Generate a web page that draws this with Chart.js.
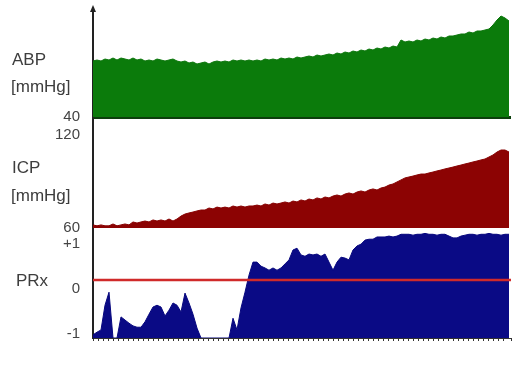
<!DOCTYPE html>
<html>
<head>
<meta charset="utf-8">
<script src="https://cdn.jsdelivr.net/npm/chart.js@4.4.1/dist/chart.umd.min.js"></script>
<style>
  html, body { margin: 0; padding: 0; background: #fff; }
  #wrap { width: 515px; height: 384px; }
</style>
</head>
<body>
<div id="wrap"><canvas id="myChart" width="515" height="384"></canvas></div>
<script>
// values, one sample every half minute
const abp = [96, 97, 96, 98, 97, 99, 97, 99, 98, 97,
  99, 97, 98, 96, 97, 96, 98, 97, 96, 97,
  98, 96, 95, 96, 94, 95, 93, 94, 95, 93,
  95, 96, 95, 96, 95, 97, 96, 97, 96, 97,
  96, 97, 96, 98, 97, 98, 97, 99, 98, 99,
  98, 100, 99, 100, 101, 100, 102, 101, 102, 103,
  102, 104, 103, 105, 104, 106, 105, 107, 106, 108,
  107, 109, 108, 110, 109, 111, 110, 117, 115, 116,
  115, 117, 116, 118, 117, 119, 118, 120, 119, 121,
  121, 122, 123, 123, 125, 124, 126, 126, 127, 128,
  132, 137, 141, 139, 136];

const icp = [62.0, 61.4, 62.0, 61.4, 61.4, 62.6, 61.4, 62.0, 62.6, 62.0,
  63.9, 63.2, 63.9, 64.5, 63.9, 65.2, 64.5, 65.2, 64.5, 65.8,
  64.5, 65.8, 67.7, 69.0, 69.7, 70.3, 71.0, 71.6, 71.6, 72.9,
  72.3, 73.5, 72.9, 73.5, 72.9, 74.2, 73.5, 74.2, 73.5, 74.2,
  74.2, 74.8, 74.2, 75.5, 74.8, 76.1, 75.5, 76.1, 76.8, 76.1,
  77.4, 76.8, 78.1, 77.4, 78.7, 78.1, 79.4, 78.7, 80.0, 79.4,
  80.6, 81.3, 80.6, 81.9, 82.6, 81.9, 83.2, 83.9, 83.2, 84.5,
  85.2, 84.5, 85.8, 86.4, 87.7, 88.4, 89.7, 91.0, 92.3, 92.9,
  93.5, 94.2, 94.8, 94.8, 95.5, 96.1, 96.8, 97.4, 98.1, 98.7,
  99.3, 100.0, 100.6, 101.3, 101.9, 102.6, 103.2, 103.9, 104.5, 105.8,
  107.1, 109.0, 110.3, 110.3, 109.0];

const prx = [-1.02, -0.96, -0.91, -0.36, -0.07, -1.09, -1.09, -0.62, -0.69, -0.76,
  -0.82, -0.85, -0.85, -0.73, -0.56, -0.40, -0.36, -0.40, -0.60, -0.47,
  -0.31, -0.36, -0.51, -0.09, -0.31, -0.56, -0.87, -1.09, -1.09, -1.09,
  -1.09, -1.09, -1.09, -1.09, -1.09, -0.65, -0.91, -0.42, -0.07, 0.31,
  0.60, 0.60, 0.51, 0.47, 0.42, 0.47, 0.42, 0.47, 0.56, 0.65,
  0.87, 0.91, 0.76, 0.73, 0.78, 0.76, 0.78, 0.73, 0.78, 0.60,
  0.42, 0.60, 0.71, 0.69, 0.65, 0.87, 0.96, 1.00, 1.09, 1.11,
  1.11, 1.16, 1.16, 1.16, 1.18, 1.16, 1.18, 1.22, 1.22, 1.22,
  1.20, 1.22, 1.22, 1.24, 1.22, 1.22, 1.20, 1.22, 1.22, 1.18,
  1.14, 1.14, 1.18, 1.20, 1.22, 1.22, 1.20, 1.22, 1.22, 1.24,
  1.22, 1.22, 1.20, 1.22, 1.22];

// red PRx reference line, start and end of record
const prxLimitTime = [0, 52.25];
const prxLimit = [0.2, 0.2];

const abpTicks = [40];
const icpTicks = [60, 120];
const prxTicks = [-1, 0, 1];

const minutes = abp.map((v, i) => i * 0.5);
const pts = (arr) => arr.map((v, i) => ({x: minutes[i], y: v}));

const textColor = '#3d3d3d';
const labelFont = '17px "Liberation Sans", Arial, sans-serif';

// side labels, scale bar and TIME
const panelText = {
  id: 'panelText',
  afterDraw(chart) {
    const {ctx, scales} = chart;
    const a = scales.yAbp, c = scales.yIcp, p = scales.yPrx, x = scales.x;
    ctx.save();
    ctx.fillStyle = textColor;
    ctx.font = labelFont;
    ctx.textBaseline = 'middle';
    ctx.textAlign = 'left';
    ctx.fillText('ABP', 12, a.top + 50);
    ctx.fillText('[mmHg]', 11, a.top + 77);
    ctx.fillText('ICP', 12, c.top + 51);
    ctx.fillText('[mmHg]', 11, c.top + 79);
    ctx.fillText('PRx', 16, p.top + 53);

    // 5 min scale bar
    const x0 = x.getPixelForValue(0), x1 = x.getPixelForValue(5);
    ctx.strokeStyle = '#555';
    ctx.lineWidth = 2;
    ctx.beginPath();
    ctx.moveTo(x0, x.bottom + 18);
    ctx.lineTo(x1, x.bottom + 18);
    ctx.stroke();
    ctx.font = '15px "Liberation Sans", Arial, sans-serif';
    ctx.fillText('5 min', x0 + 2, x.bottom + 36);

    ctx.font = '19px "Liberation Sans", Arial, sans-serif';
    ctx.textAlign = 'right';
    ctx.fillText('TIME', x.right - 14, x.bottom + 25);

    // little arrow head on the axis
    ctx.fillStyle = '#222';
    ctx.beginPath();
    ctx.moveTo(a.right - 3, a.top + 2);
    ctx.lineTo(a.right, a.top - 5);
    ctx.lineTo(a.right + 3, a.top + 2);
    ctx.fill();
    ctx.restore();
  }
};

const yCommon = (min, max, weight, tickList) => ({
  type: 'linear',
  position: 'left',
  stack: 'panels',
  stackWeight: weight,
  min: min,
  max: max,
  offset: false,
  afterBuildTicks: s => { s.ticks = tickList.map(v => ({value: v})); },
  afterFit: s => { s.width = 93; s.paddingTop = 0; s.paddingBottom = 0; },
  border: {display: true, color: '#222', width: 2},
  ticks: {
    color: '#444',
    padding: 13,
    font: {family: '"Liberation Sans", Arial, sans-serif', size: 15},
    callback: v => (v > 0 && tickList === prxTicks ? '+' + v : String(v))
  }
});

const ctx = document.getElementById('myChart');
const myChart = new Chart(ctx, {
  type: 'line',
  data: {
    datasets: [
      {
        label: 'PRx limit',
        data: prxLimit.map((v, i) => ({x: prxLimitTime[i], y: v})),
        yAxisID: 'yPrx',
        borderColor: '#d02a2a',
        borderWidth: 2.5,
        pointRadius: 0,
        fill: false,
        order: 0
      },
      {
        label: 'ABP',
        data: pts(abp),
        yAxisID: 'yAbp',
        borderColor: '#0b760b',
        backgroundColor: '#0b7b0b',
        borderWidth: 1,
        pointRadius: 0,
        fill: 'start',
        order: 1
      },
      {
        label: 'ICP',
        data: pts(icp),
        yAxisID: 'yIcp',
        borderColor: '#860000',
        backgroundColor: '#8c0303',
        borderWidth: 1,
        pointRadius: 0,
        fill: 'start',
        order: 1
      },
      {
        label: 'PRx',
        data: pts(prx),
        yAxisID: 'yPrx',
        borderColor: '#07077e',
        backgroundColor: '#0a0a85',
        borderWidth: 1,
        pointRadius: 0,
        fill: 'start',
        order: 1
      }
    ]
  },
  options: {
    responsive: false,
    animation: false,
    devicePixelRatio: 1,
    layout: {padding: {top: 10, right: 4, left: 0, bottom: 0}},
    plugins: {legend: {display: false}, tooltip: {enabled: false}},
    scales: {
      x: {
        type: 'linear',
        min: 0,
        max: 52.25,
        afterFit: s => { s.height = 46; s.paddingLeft = 0; s.paddingRight = 0; },
        grid: {display: true, drawOnChartArea: false, drawTicks: true, tickLength: 3, color: '#333'},
        border: {display: true, color: '#333', width: 1},
        ticks: {stepSize: 0.625, autoSkip: false, maxRotation: 0, callback: () => ''}
      },
      // stacked panels are laid out bottom-up, so PRx comes first
      yPrx: Object.assign(yCommon(-1.09, 1.36, 110, prxTicks), {
        grid: {drawTicks: false, color: 'rgba(0,0,0,0)'}
      }),
      yIcp: Object.assign(yCommon(60, 131.6, 111, icpTicks), {
        grid: {drawTicks: false, color: 'rgba(0,0,0,0)'}
      }),
      yAbp: Object.assign(yCommon(40, 147, 107, abpTicks), {
        z: 1,
        grid: {drawTicks: false, lineWidth: 3,
          color: c => (c.tick && c.tick.value === 40 ? '#0c3f0c' : 'rgba(0,0,0,0)')}
      })
    }
  },
  plugins: [panelText]
});
</script>
</body>
</html>
